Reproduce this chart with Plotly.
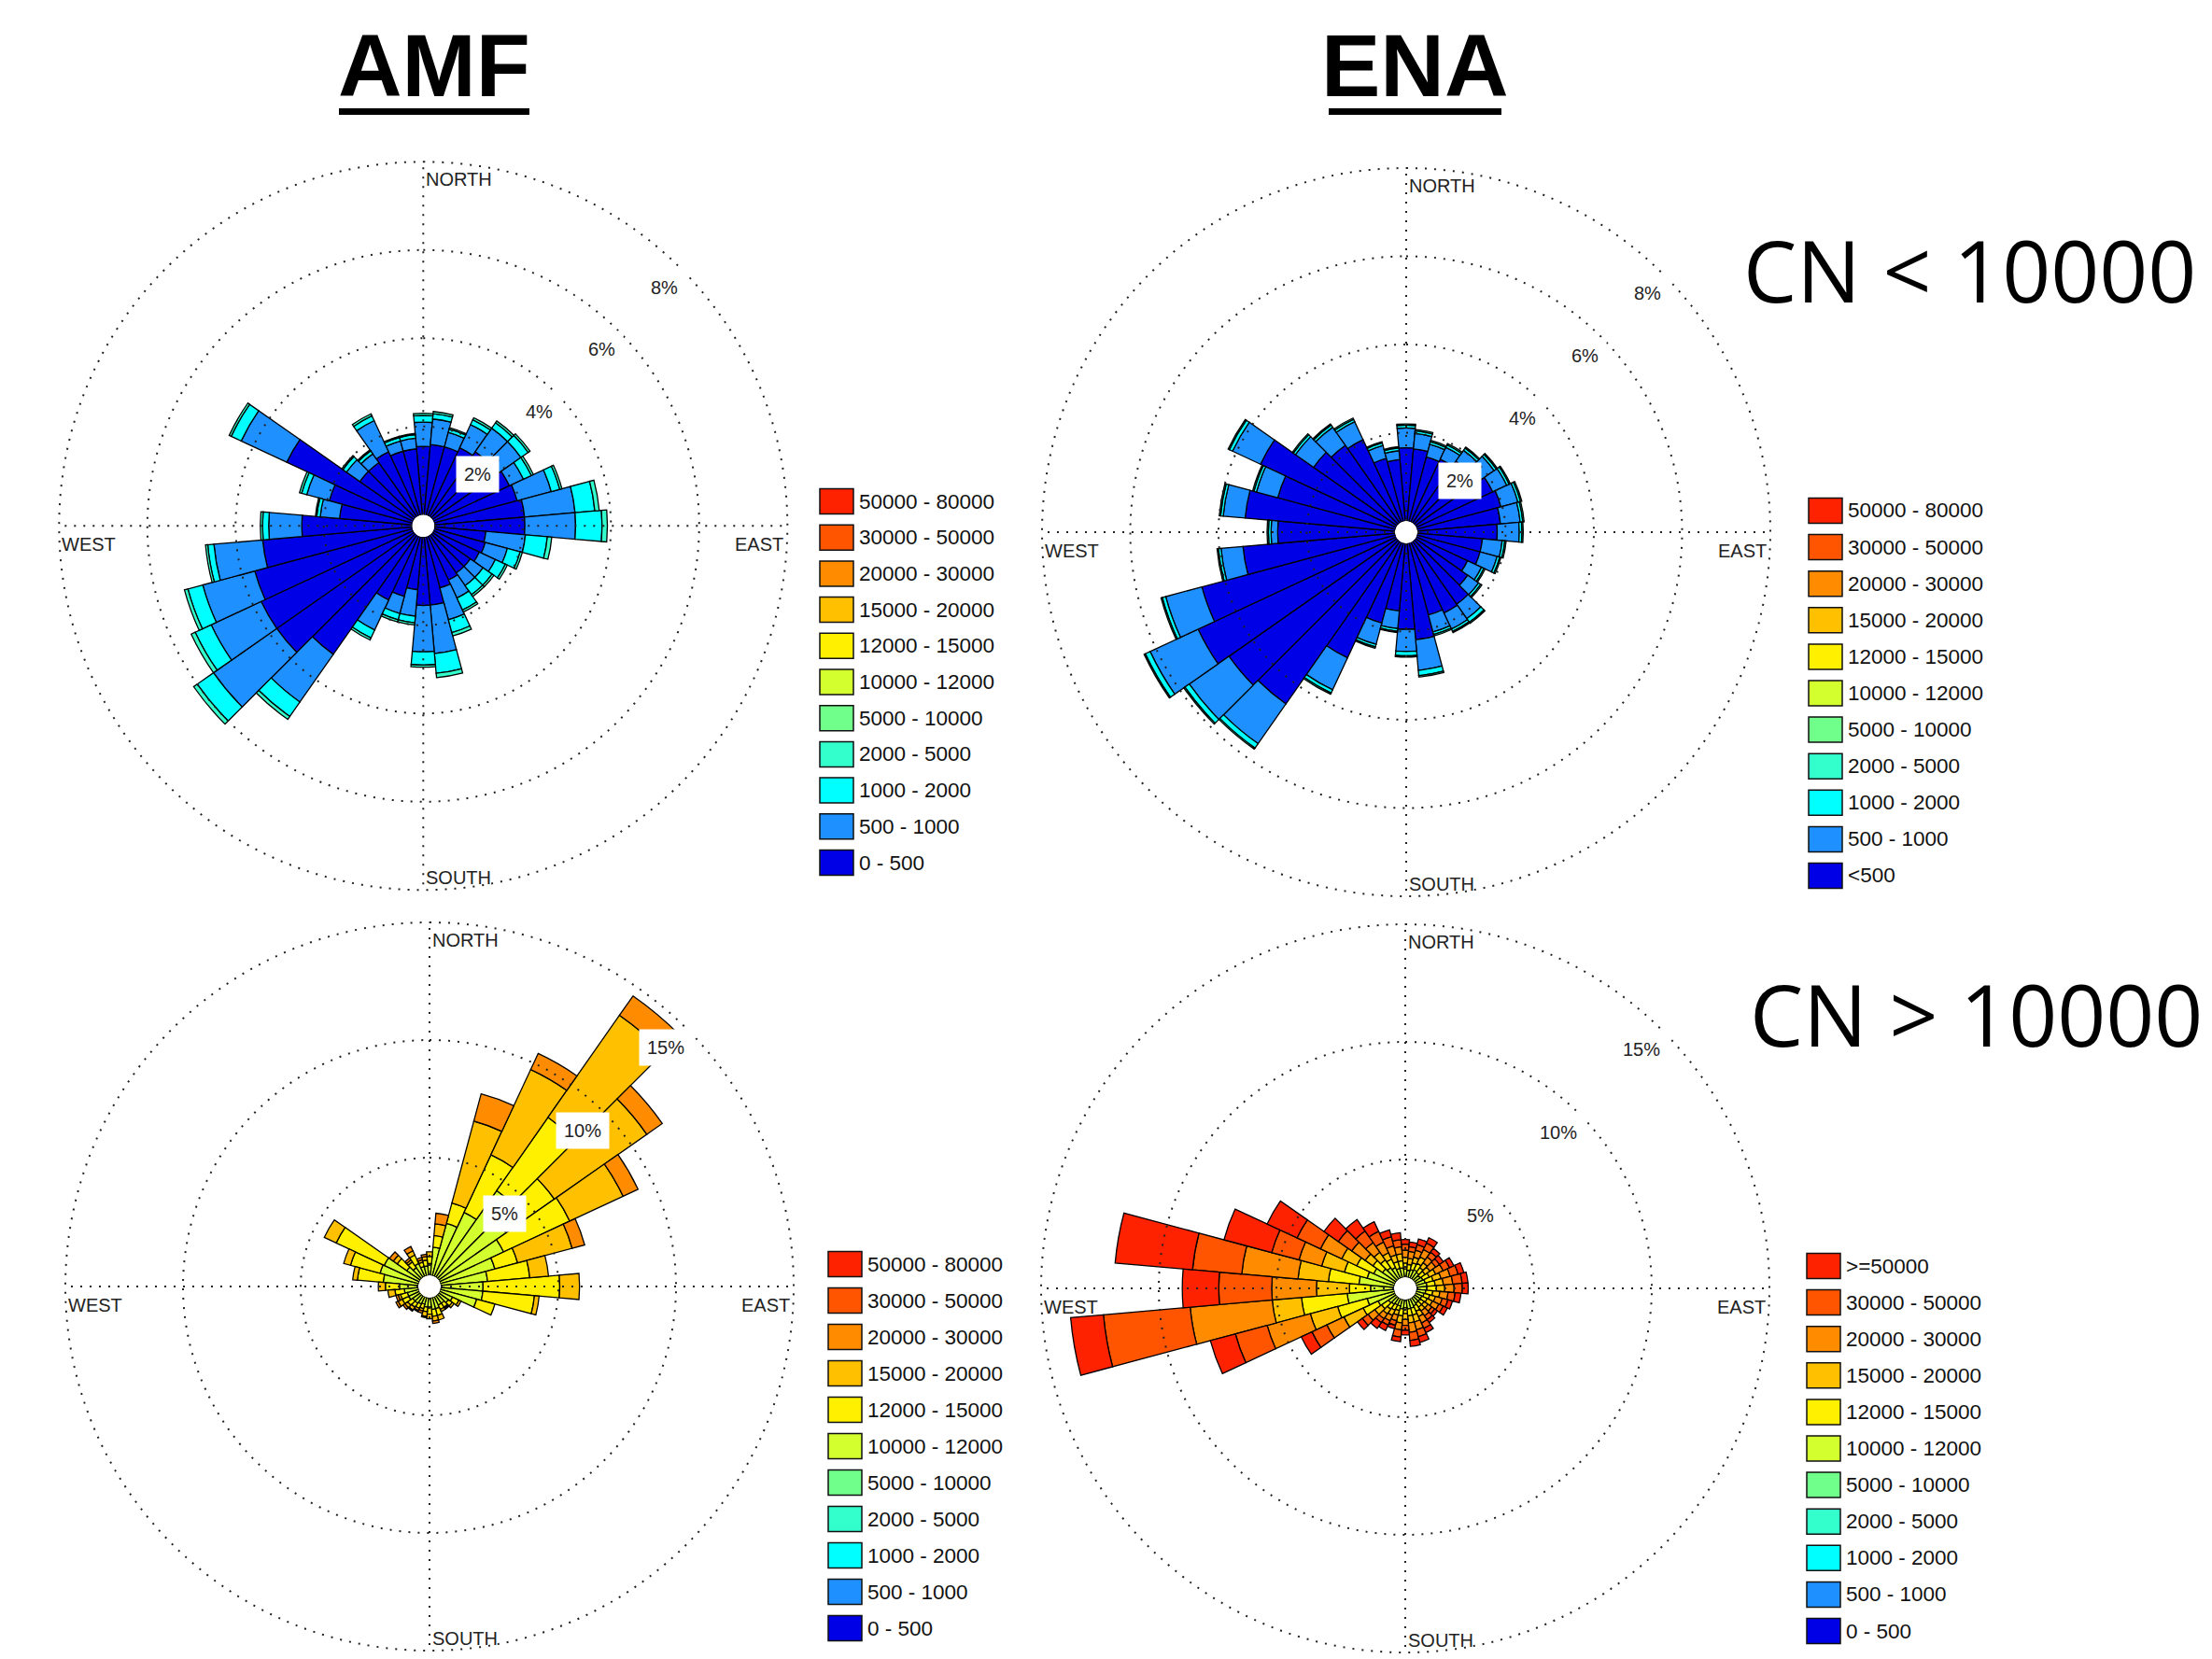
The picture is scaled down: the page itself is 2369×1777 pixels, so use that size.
import numpy as np
import plotly.graph_objects as go

W, H = 2369, 1777

# ---------------- data ----------------
directions = list(range(0, 360, 10))

legend_amf = ["50000 - 80000", "30000 - 50000", "20000 - 30000", "15000 - 20000", "12000 - 15000",
              "10000 - 12000", "5000 - 10000", "2000 - 5000", "1000 - 2000", "500 - 1000", "0 - 500"]
legend_ena_low = ["50000 - 80000", "30000 - 50000", "20000 - 30000", "15000 - 20000", "12000 - 15000",
                  "10000 - 12000", "5000 - 10000", "2000 - 5000", "1000 - 2000", "500 - 1000", "<500"]
legend_ena_high = [">=50000", "30000 - 50000", "20000 - 30000", "15000 - 20000", "12000 - 15000",
                   "10000 - 12000", "5000 - 10000", "2000 - 5000", "1000 - 2000", "500 - 1000", "0 - 500"]
legend_colors = ["#FF2200", "#FF5500", "#FF8C00", "#FFC000", "#FFF000",
                 "#D4FF2E", "#70FF8A", "#33FFCC", "#00FFFF", "#1E90FF", "#0000E6"]

# AMF, CN < 10000 (percent frequency per 10-degree sector)
amf_low_0_500 = [1.55, 1.60, 1.60, 1.70, 1.80, 1.85, 1.90, 1.95, 2.05, 2.05, 1.17, 1.20, 1.15, 1.05, 1.05, 1.10, 1.20, 1.55,
                 1.55, 1.20, 1.40, 1.60, 3.30, 3.80, 3.80, 3.70, 3.40, 2.50, 1.65, 1.95, 3.16, 1.50, 1.50, 1.60, 1.50, 1.50]
amf_low_500_1000 = [0.55, 0.58, 0.34, 0.58, 0.65, 0.60, 0.35, 0.80, 1.15, 1.15, 0.90, 0.52, 0.40, 0.35, 0.35, 0.45, 0.75, 1.10,
                    1.05, 0.60, 0.40, 0.75, 1.32, 1.75, 1.25, 1.22, 1.11, 0.75, 0.44, 0.53, 1.14, 0.37, 0.24, 0.78, 0.24, 0.24]
amf_low_1000_2000 = [0.15, 0.12, 0.08, 0.12, 0.15, 0.20, 0.20, 0.20, 0.45, 0.60, 0.50, 0.30, 0.25, 0.25, 0.25, 0.30, 0.30, 0.45,
                     0.30, 0.15, 0.15, 0.20, 0.40, 0.45, 0.40, 0.35, 0.14, 0.14, 0.08, 0.12, 0.25, 0.10, 0.08, 0.12, 0.08, 0.08]
amf_low_2000_5000 = [0.05, 0.05, 0.03, 0.05, 0.05, 0.05, 0.05, 0.05, 0.10, 0.12, 0.10, 0.05, 0.05, 0.05, 0.05, 0.05, 0.08, 0.10,
                     0.05, 0.05, 0.05, 0.05, 0.08, 0.10, 0.10, 0.08, 0.05, 0.05, 0.03, 0.05, 0.05, 0.03, 0.03, 0.05, 0.03, 0.03]

# ENA, CN < 10000
ena_low_0_500 = [1.66, 1.64, 1.51, 1.57, 1.71, 1.83, 1.91, 1.97, 1.89, 1.81, 1.48, 1.48, 1.28, 1.45, 1.74, 1.77, 1.69, 2.19,
                 1.95, 1.54, 1.88, 2.89, 4.50, 4.65, 4.95, 4.54, 3.46, 2.66, 3.41, 2.76, 3.39, 2.31, 2.15, 2.06, 1.48, 1.40]
ena_low_500_1000 = [0.45, 0.35, 0.30, 0.30, 0.30, 0.35, 0.35, 0.40, 0.45, 0.50, 0.45, 0.40, 0.35, 0.30, 0.40, 0.40, 0.40, 0.70,
                    0.50, 0.40, 0.50, 0.80, 1.10, 1.10, 1.20, 0.85, 0.50, 0.15, 0.50, 0.50, 0.70, 0.50, 0.50, 0.45, 0.30, 0.20]
ena_low_1000_2000 = [0.06, 0.06, 0.06, 0.06, 0.06, 0.06, 0.06, 0.06, 0.06, 0.06, 0.06, 0.06, 0.06, 0.06, 0.10, 0.06, 0.06, 0.12,
                     0.10, 0.06, 0.06, 0.08, 0.12, 0.12, 0.12, 0.08, 0.06, 0.06, 0.06, 0.06, 0.08, 0.06, 0.06, 0.06, 0.06, 0.06]
ena_low_2000_5000 = [0.03, 0.03, 0.03, 0.03, 0.03, 0.03, 0.03, 0.03, 0.03, 0.03, 0.03, 0.03, 0.03, 0.03, 0.03, 0.03, 0.03, 0.03,
                     0.03, 0.03, 0.03, 0.03, 0.03, 0.03, 0.03, 0.03, 0.03, 0.03, 0.03, 0.03, 0.03, 0.03, 0.03, 0.03, 0.03, 0.03]

# AMF, CN > 10000
amf_high_10000_12000 = [0.5, 1.2, 2.3, 3.0, 4.5, 3.5, 3.0, 2.4, 2.0, 1.8, 1.8, 1.6, 0.6, 0.5, 0.4, 0.4, 0.5, 0.5,
                        0.4, 0.4, 0.3, 0.35, 0.4, 0.4, 0.5, 0.5, 0.6, 0.8, 1.5, 1.7, 1.65, 0.7, 0.5, 0.6, 0.4, 0.4]
amf_high_12000_15000 = [0.3, 0.5, 0.9, 2.7, 3.8, 2.5, 3.1, 1.0, 1.8, 3.26, 2.2, 0.8, 0.3, 0.2, 0.2, 0.2, 0.3, 0.3,
                        0.3, 0.2, 0.2, 0.2, 0.2, 0.25, 0.3, 0.3, 0.4, 0.6, 1.1, 1.3, 2.25, 0.5, 0.3, 0.4, 0.2, 0.25]
amf_high_15000_20000 = [0.2, 0.5, 3.6, 4.0, 5.3, 4.8, 2.5, 2.4, 0.8, 0.84, 0.2, 0.0, 0.1, 0.1, 0.05, 0.1, 0.2, 0.2,
                        0.2, 0.2, 0.1, 0.1, 0.15, 0.15, 0.2, 0.1, 0.3, 0.3, 0.2, 0.3, 0.56, 0.2, 0.1, 0.2, 0.1, 0.15]
amf_high_20000_30000 = [0.0, 0.45, 1.2, 0.75, 1.0, 0.8, 0.7, 0.55, 0.0, 0.0, 0.0, 0.0, 0.0, 0.0, 0.05, 0.0, 0.0, 0.1,
                        0.0, 0.05, 0.1, 0.05, 0.05, 0.1, 0.1, 0.1, 0.0, 0.0, 0.0, 0.0, 0.0, 0.2, 0.1, 0.2, 0.1, 0.1]

# ENA, CN > 10000
ena_high_10000_12000 = [0.35, 0.3, 0.35, 0.4, 0.35, 0.3, 0.35, 0.4, 0.45, 0.45, 0.4, 0.35, 0.3, 0.3, 0.3, 0.35, 0.4, 0.4,
                        0.35, 0.4, 0.3, 0.3, 0.35, 0.4, 0.8, 1.2, 2.0, 1.0, 1.5, 1.2, 1.0, 0.7, 0.6, 0.5, 0.4, 0.4]
ena_high_12000_15000 = [0.25, 0.25, 0.3, 0.3, 0.25, 0.25, 0.3, 0.35, 0.35, 0.4, 0.3, 0.25, 0.25, 0.2, 0.2, 0.25, 0.3, 0.3,
                        0.25, 0.3, 0.2, 0.25, 0.25, 0.35, 0.7, 1.3, 1.95, 0.9, 1.3, 1.0, 0.8, 0.5, 0.4, 0.4, 0.3, 0.3]
ena_high_15000_20000 = [0.25, 0.25, 0.25, 0.3, 0.25, 0.25, 0.3, 0.35, 0.35, 0.35, 0.3, 0.25, 0.25, 0.2, 0.2, 0.25, 0.3, 0.3,
                        0.25, 0.3, 0.2, 0.25, 0.25, 0.35, 0.9, 1.2, 1.25, 1.4, 1.3, 1.0, 0.7, 0.4, 0.4, 0.3, 0.3, 0.3]
ena_high_20000_30000 = [0.3, 0.3, 0.3, 0.35, 0.3, 0.3, 0.35, 0.4, 0.4, 0.4, 0.35, 0.3, 0.3, 0.2, 0.25, 0.3, 0.35, 0.4,
                        0.25, 0.3, 0.25, 0.25, 0.25, 0.35, 0.8, 1.9, 3.5, 1.9, 2.4, 1.0, 1.0, 0.7, 0.5, 0.5, 0.4, 0.3]
ena_high_30000_50000 = [0.25, 0.2, 0.25, 0.3, 0.25, 0.2, 0.3, 0.35, 0.4, 0.35, 0.3, 0.25, 0.2, 0.15, 0.2, 0.25, 0.3, 0.35,
                        0.2, 0.3, 0.2, 0.2, 0.2, 0.3, 0.7, 1.4, 3.7, 2.25, 2.1, 1.2, 1.1, 0.7, 0.6, 0.5, 0.4, 0.3]
ena_high_50000_up = [0.2, 0.2, 0.25, 0.25, 0.2, 0.2, 0.2, 0.25, 0.25, 0.25, 0.25, 0.2, 0.2, 0.15, 0.15, 0.2, 0.25, 0.25,
                     0.2, 0.2, 0.15, 0.25, 0.3, 0.25, 0.5, 1.1, 1.4, 1.55, 3.3, 2.1, 1.4, 0.74, 0.6, 0.45, 0.3, 0.3]

top_rings = [2, 4, 6, 8]
bottom_rings = [5, 10, 15]

# ---------------- styling / geometry ----------------
COL = dict(zip(legend_amf, legend_colors))
HOLE_PX = 12
OUTER_PX = 390
GRID = dict(color="#222222", width=2, dash="2px,8px")
FONT = "Liberation Sans, Arial, sans-serif"

panels = [
    dict(key="polar", cx=453.3, cy=563.3, rmax=8.4, rings=top_rings,
         series=[(amf_low_0_500, "0 - 500"), (amf_low_500_1000, "500 - 1000"),
                 (amf_low_1000_2000, "1000 - 2000"), (amf_low_2000_5000, "2000 - 5000")],
         legend=legend_amf, leg_x=878, leg_y=537, leg_dy=38.7),
    dict(key="polar2", cx=1506, cy=570, rmax=8.4, rings=top_rings,
         series=[(ena_low_0_500, "0 - 500"), (ena_low_500_1000, "500 - 1000"),
                 (ena_low_1000_2000, "1000 - 2000"), (ena_low_2000_5000, "2000 - 5000")],
         legend=legend_ena_low, leg_x=1937, leg_y=547, leg_dy=39.1),
    dict(key="polar3", cx=460, cy=1378, rmax=15.2, rings=bottom_rings,
         series=[(amf_high_10000_12000, "10000 - 12000"), (amf_high_12000_15000, "12000 - 15000"),
                 (amf_high_15000_20000, "15000 - 20000"), (amf_high_20000_30000, "20000 - 30000")],
         legend=legend_amf, leg_x=887, leg_y=1354, leg_dy=39.0),
    dict(key="polar4", cx=1505, cy=1380, rmax=15.2, rings=bottom_rings,
         series=[(ena_high_10000_12000, "10000 - 12000"), (ena_high_12000_15000, "12000 - 15000"),
                 (ena_high_15000_20000, "15000 - 20000"), (ena_high_20000_30000, "20000 - 30000"),
                 (ena_high_30000_50000, "30000 - 50000"), (ena_high_50000_up, "50000 - 80000")],
         legend=legend_ena_high, leg_x=1935, leg_y=1356, leg_dy=39.1),
]

fig = go.Figure()
annotations = []
shapes = []
layout_polars = {}


def px(x):
    return x / W


def py(y):
    return 1 - y / H


for p in panels:
    outer = p["rings"][-1]
    R = HOLE_PX + (OUTER_PX - HOLE_PX) * p["rmax"] / outer
    cx, cy = p["cx"], p["cy"]
    layout_polars[p["key"]] = dict(
        domain=dict(x=[max(0, px(cx - R)), min(1, px(cx + R))],
                    y=[max(0, py(cy + R)), min(1, py(cy - R))]),
        bgcolor="rgba(0,0,0,0)",
        hole=HOLE_PX / R,
        barmode="stack",
        bargap=0,
        angularaxis=dict(rotation=90, direction="clockwise", showticklabels=False, ticks="",
                         showgrid=False, showline=False),
        radialaxis=dict(range=[0, p["rmax"]], showticklabels=False, ticks="",
                        showgrid=False, showline=False),
    )
    for vals, cls in p["series"]:
        fig.add_trace(go.Barpolar(r=vals, theta=directions, width=10, name=cls,
                                  marker=dict(color=COL[cls], line=dict(color="black", width=1.3)),
                                  subplot=p["key"], showlegend=False, hoverinfo="skip"))
    ring_theta = np.linspace(0, 360, 721)
    for v in p["rings"]:
        fig.add_trace(go.Scatterpolar(r=np.full(ring_theta.size, v), theta=ring_theta, mode="lines",
                                      line=GRID, subplot=p["key"], showlegend=False, hoverinfo="skip"))
    fig.add_trace(go.Scatterpolar(r=[0, outer, None, 0, outer, None, 0, outer, None, 0, outer],
                                  theta=[0, 0, None, 90, 90, None, 180, 180, None, 270, 270],
                                  mode="lines", line=GRID, subplot=p["key"],
                                  showlegend=False, hoverinfo="skip"))
    # ring labels on the 45 degree diagonal
    for v in p["rings"]:
        rp = HOLE_PX + (R - HOLE_PX) * v / p["rmax"]
        annotations.append(dict(x=px(cx + rp * 0.7071), y=py(cy - rp * 0.7071), xref="paper", yref="paper",
                                text=f"{v}%", showarrow=False, xanchor="right", yanchor="top",
                                xshift=6, bgcolor="white", borderpad=8,
                                font=dict(family=FONT, size=20, color="#222")))
    # compass labels
    comp_font = dict(family=FONT, size=20, color="#222")
    annotations += [
        dict(x=px(cx + 1), y=py(cy - OUTER_PX + 19), text="NORTH", xanchor="left", yanchor="middle"),
        dict(x=px(cx + 1), y=py(cy + OUTER_PX - 13), text="SOUTH", xanchor="left", yanchor="middle"),
        dict(x=px(cx - OUTER_PX + 1), y=py(cy + 20), text="WEST", xanchor="left", yanchor="middle"),
        dict(x=px(cx + OUTER_PX - 2), y=py(cy + 20), text="EAST", xanchor="right", yanchor="middle"),
    ]
    for a in annotations[-4:]:
        a.update(xref="paper", yref="paper", showarrow=False, font=comp_font)
    # legend
    for i, (lab, col) in enumerate(zip(p["legend"], legend_colors)):
        yc = p["leg_y"] + i * p["leg_dy"]
        shapes.append(dict(type="rect", xref="paper", yref="paper",
                           x0=px(p["leg_x"]), x1=px(p["leg_x"] + 36),
                           y0=py(yc + 13.5), y1=py(yc - 13.5),
                           fillcolor=col, line=dict(color="#111", width=1.5)))
        annotations.append(dict(x=px(p["leg_x"] + 40), y=py(yc), xref="paper", yref="paper",
                                text=lab, showarrow=False, xanchor="left", yanchor="middle",
                                font=dict(family=FONT, size=22.5, color="#111")))

# titles
title_font = dict(family="Liberation Sans, Arial, sans-serif", size=95, color="black")
annotations += [
    dict(x=px(465), y=py(70), text="<b>AMF</b>", xref="paper", yref="paper", showarrow=False,
         xanchor="center", yanchor="middle", font=title_font),
    dict(x=px(1515), y=py(70), text="<b>ENA</b>", xref="paper", yref="paper", showarrow=False,
         xanchor="center", yanchor="middle", font=title_font),
    dict(x=px(2109), y=py(289), text="CN &lt; 10000", xref="paper", yref="paper", showarrow=False,
         xanchor="center", yanchor="middle", font=dict(family="Open Sans, sans-serif", size=91, color="black")),
    dict(x=px(2116), y=py(1086), text="CN &gt; 10000", xref="paper", yref="paper", showarrow=False,
         xanchor="center", yanchor="middle", font=dict(family="Open Sans, sans-serif", size=91, color="black")),
]
shapes += [
    dict(type="line", xref="paper", yref="paper", x0=px(363), x1=px(567), y0=py(119.5), y1=py(119.5),
         line=dict(color="black", width=7)),
    dict(type="line", xref="paper", yref="paper", x0=px(1423), x1=px(1608), y0=py(119.5), y1=py(119.5),
         line=dict(color="black", width=7)),
]

fig.update_layout(
    width=W, height=H, autosize=False,
    margin=dict(l=0, r=0, t=0, b=0),
    paper_bgcolor="white", plot_bgcolor="white",
    showlegend=False,
    annotations=annotations,
    shapes=shapes,
    **layout_polars,
)

fig.write_html("out.html")
